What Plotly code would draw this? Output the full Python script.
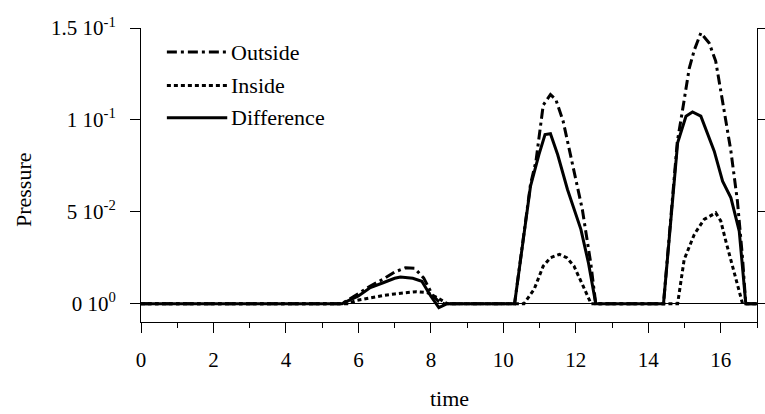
import plotly.graph_objects as go

# ---- data ----
outside_t = [0, 5.55, 6.0, 6.33, 6.7, 7.0, 7.3, 7.55, 7.8, 8.05, 8.22, 8.35,
             10.31, 10.75, 10.9, 11.1, 11.3, 11.45, 11.65, 11.9, 12.18, 12.41, 12.55,
             14.42, 14.8, 14.94, 15.13, 15.27, 15.45, 15.68, 15.86, 16.05, 16.28, 16.46, 16.6, 16.69, 17]
outside_p = [0, 0, 0.0055, 0.0096, 0.0135, 0.0172, 0.0195, 0.0192, 0.014, 0.0045, 0.001, 0,
             0, 0.065, 0.0775, 0.108, 0.1138, 0.111, 0.0993, 0.0766, 0.0512, 0.0223, 0,
             0, 0.088, 0.1047, 0.128, 0.138, 0.1473, 0.1418, 0.132, 0.110, 0.083, 0.0558, 0.025, 0, 0]

inside_t = [0, 5.7, 5.97, 6.33, 6.7, 7.0, 7.3, 7.6, 7.9, 8.2, 8.45,
            10.57, 10.85, 11.1, 11.3, 11.55, 11.75, 11.95, 12.2, 12.42,
            14.81, 14.99, 15.27, 15.54, 15.86, 16.0, 16.14, 16.37, 16.6, 17]
inside_p = [0, 0, 0.0018, 0.0033, 0.0045, 0.0053, 0.006, 0.0065, 0.006, 0.003, 0,
            0, 0.0078, 0.0204, 0.025, 0.0268, 0.025, 0.0204, 0.0096, 0,
            0, 0.024, 0.0377, 0.0458, 0.0494, 0.045, 0.034, 0.0177, 0, 0]

diff_t = [0, 5.55, 6.0, 6.33, 6.7, 7.0, 7.16, 7.5, 7.75, 8.0, 8.22, 8.45,
          10.31, 10.75, 10.98, 11.15, 11.3, 11.5, 11.77, 12.14, 12.35, 12.55,
          14.42, 14.81, 15.04, 15.22, 15.45, 15.82, 16.05, 16.28, 16.51, 16.69, 17]
diff_p = [0, 0, 0.0042, 0.0087, 0.0115, 0.0138, 0.0145, 0.0138, 0.0122, 0.004, -0.0022, 0,
          0, 0.064, 0.081, 0.092, 0.0925, 0.081, 0.0621, 0.0404, 0.022, 0,
          0, 0.0875, 0.102, 0.1043, 0.102, 0.083, 0.0666, 0.0576, 0.0395, 0, 0]

series_names = ["Outside", "Inside", "Difference"]
series_dash = ["10px,4px,3px,4px", "4px,3px", "solid"]

x_tickvals = [0, 2, 4, 6, 8, 10, 12, 14, 16]
y_tickvals = [0, 0.05, 0.1, 0.15]
y_ticktext = ["0 10<sup>0</sup>", "5 10<sup>-2</sup>", "1 10<sup>-1</sup>", "1.5 10<sup>-1</sup>"]

FONT = "Liberation Serif, Times New Roman, Times, serif"

fig = go.Figure()
data_sets = [(outside_t, outside_p), (inside_t, inside_p), (diff_t, diff_p)]
for (t, p), name, dash in zip(data_sets, series_names, series_dash):
    fig.add_trace(go.Scatter(x=t, y=p, mode="lines", name=name, showlegend=False,
                             line=dict(color="black", width=3, dash=dash)))

# manual legend (longer line samples, like the reference)
legend_rows_y = [0.918, 0.804, 0.695]
for name, dash, yy in zip(series_names, series_dash, legend_rows_y):
    fig.add_shape(type="line", xref="paper", yref="paper", x0=0.042, x1=0.140, y0=yy, y1=yy,
                  line=dict(color="black", width=3, dash=dash))
    fig.add_annotation(xref="paper", yref="paper", x=0.143, y=yy, text=name, showarrow=False,
                       xanchor="left", yanchor="middle", font=dict(family=FONT, size=22, color="black"))

# axis titles
fig.add_annotation(xref="paper", yref="paper", x=-0.191, y=0.45, text="Pressure", showarrow=False,
                   textangle=-90, xanchor="center", yanchor="middle",
                   font=dict(family=FONT, size=22, color="black"))
fig.add_annotation(xref="paper", yref="paper", x=0.5, y=-0.26, text="time", showarrow=False,
                   xanchor="center", yanchor="middle",
                   font=dict(family=FONT, size=22, color="black"))

fig.update_layout(
    width=765, height=414,
    margin=dict(l=141, r=8, t=28, b=92),
    paper_bgcolor="white", plot_bgcolor="white",
    font=dict(family=FONT, size=21, color="black"),
    showlegend=False,
    xaxis=dict(range=[0, 17], tickvals=x_tickvals, ticks="outside", ticklen=10, tickwidth=1,
               tickcolor="black", showline=True, linecolor="black", linewidth=1,
               showgrid=False, zeroline=False, mirror=False, automargin=False,
               minor=dict(dtick=1, ticks="outside", ticklen=5, tickcolor="black", showgrid=False),
               tickfont=dict(family=FONT, size=21), ticklabelstandoff=9),
    yaxis=dict(range=[-0.01, 0.15], tickvals=y_tickvals, ticktext=y_ticktext, ticks="outside",
               ticklen=10, tickwidth=1, tickcolor="black", showline=True, linecolor="black",
               linewidth=1, mirror="ticks", showgrid=False, zeroline=True, zerolinecolor="black",
               zerolinewidth=1, automargin=False, tickfont=dict(family=FONT, size=21),
               ticklabelstandoff=10),
)

fig.write_html("out.html", config={"displayModeBar": False},
               post_script="document.body.style.margin='0';document.body.style.padding='0';")
